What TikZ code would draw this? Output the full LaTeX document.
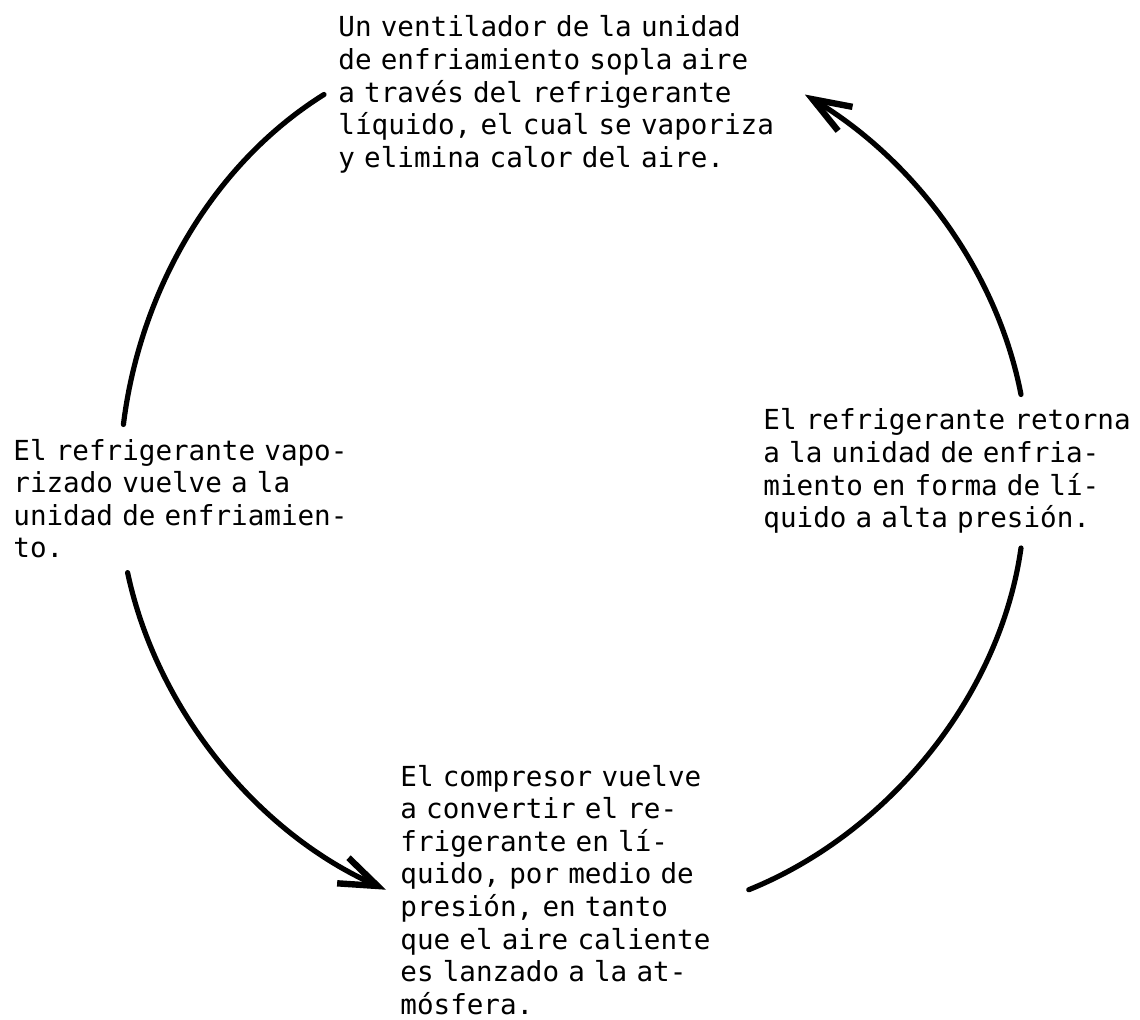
\documentclass[tikz,border=0pt]{standalone}
\usepackage{fontspec}
\newfontfamily\typefont{DejaVu Sans Mono}
\usetikzlibrary{arrows.meta}

\begin{document}
\begin{tikzpicture}[x=0.5pt, y=0.5pt,
  >={Straight Barb[length=19pt, width=14pt, line width=3.2pt]},
  every node/.style={font=\typefont\fontsize{13.8}{16.3}\selectfont},
  note/.style={align=left, inner sep=7pt, anchor=base west},
  loopline/.style={line width=2.6pt, line cap=round, looseness=0.88}]
  \useasboundingbox (0,0) rectangle (1140,1019);

  \node[note, text width=226pt] (vent) at (324, 982) {Un ventilador de la unidad\\de enfriamiento sopla aire\\a través del refrigerante\\líquido, el cual se vaporiza\\y elimina calor del aire.};
  \node[note, text width=186pt] (ret) at (749, 589) {El refrigerante retorna\\a la unidad de enfria-\\miento en forma de lí-\\quido a alta presión.};
  \node[note, text width=170pt] (vapor) at (-1, 559) {El refrigerante vapo-\\rizado vuelve a la\\unidad de enfriamien-\\to.};
  \node[note, text width=162pt] (comp) at (386, 233) {El compresor vuelve\\a convertir el re-\\frigerante en lí-\\quido, por medio de\\presión, en tanto\\que el aire caliente\\es lanzado a la at-\\mósfera.};

  \draw[loopline] (vent.west) to[out=212, in=83] (vapor.129);
  \draw[loopline, ->] (vapor.233) to[out=282, in=156] (comp.west);
  \draw[loopline] ([xshift=5pt]comp.east) to[out=22, in=262] (ret.313);
  \draw[loopline, ->] (ret.47) to[out=101, in=329] (vent.east);
\end{tikzpicture}
\end{document}
